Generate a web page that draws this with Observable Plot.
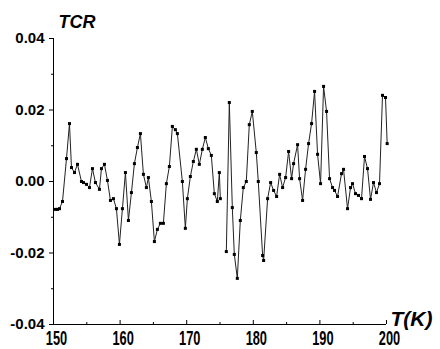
<!DOCTYPE html>
<html><head><meta charset="utf-8">
<script src="https://cdn.jsdelivr.net/npm/d3@7"></script>
<script src="https://cdn.jsdelivr.net/npm/@observablehq/plot@0.6"></script>
<style>html,body{margin:0;padding:0;background:#fff;} #chart svg{display:block;}</style>
</head><body><div id="chart"></div>
<script>
const temperature = [150.3,150.6,150.9,151.35,151.95,152.4,152.7,153.15,153.6,154.2,154.5,154.95,155.4,155.85,156.3,156.9,157.2,157.65,158.1,158.55,159.0,159.45,159.9,160.35,160.8,161.25,161.7,162.15,162.6,163.05,163.5,163.95,164.25,164.7,165.15,165.6,166.05,166.5,166.95,167.4,167.85,168.3,168.6,169.35,169.8,170.1,170.55,171.0,171.45,171.9,172.35,172.8,173.25,173.7,174.15,174.6,174.9,175.05,175.5,175.95,176.4,176.85,177.15,177.6,178.05,178.5,178.95,179.4,179.85,180.45,180.75,181.4,181.55,182.15,182.6,183.05,183.5,183.95,184.4,184.85,185.3,185.75,186.05,186.65,186.95,187.4,187.85,188.3,188.75,189.2,189.65,190.1,190.55,191.0,191.45,191.9,192.2,192.65,193.25,193.55,194.15,194.6,194.9,195.35,195.8,196.25,196.7,197.15,197.6,198.05,198.5,198.95,199.4,199.85,200.1];
const tcr = [-0.0078,-0.0078,-0.0076,-0.0056,0.0064,0.0162,0.0039,0.0025,0.0048,0.0,-0.0003,-0.0008,-0.0017,0.0036,-0.0003,-0.0022,0.0036,0.0048,0.0003,-0.0053,-0.0048,-0.0076,-0.0176,-0.0076,0.0025,-0.0109,-0.0031,0.005,0.0095,0.0134,0.002,-0.0017,0.0011,-0.0056,-0.0168,-0.0134,-0.0117,-0.0117,-0.0006,0.0042,0.0154,0.0145,0.0134,0.0,-0.0131,-0.0048,0.0014,0.0056,0.009,0.0048,0.009,0.0123,0.0092,0.0073,-0.0034,-0.0056,0.0025,-0.0048,null,-0.0196,0.0221,-0.0073,-0.0204,-0.0271,-0.0109,-0.0017,0.0,0.0159,0.0196,0.0081,0.0,-0.0207,-0.0221,-0.0048,-0.0003,-0.0025,-0.0042,0.002,-0.0017,0.0011,0.0084,0.0008,0.005,0.0103,0.0008,-0.0053,0.0034,0.0106,0.0162,0.0252,0.0076,-0.0006,0.0266,0.0196,0.0008,-0.0017,-0.0025,-0.0042,0.0022,0.0034,-0.0076,-0.0017,-0.0006,-0.0034,-0.0039,-0.0048,0.007,0.0036,-0.005,-0.0003,-0.0031,-0.0006,0.0241,0.0235,0.0106];
const xDomain = [150, 200];
const yDomain = [-0.04, 0.04];
const xMajorTicks = [150, 160, 170, 180, 190, 200];
const xMinorTicks = [155, 165, 175, 185, 195];
const yMajorTicks = [-0.04, -0.02, 0, 0.02, 0.04];
const yMinorTicks = [-0.03, -0.01, 0.01, 0.03];
const xTitle = "T(K)";
const yTitle = "TCR";

const rows = temperature.map((t, i) => ({T: t, TCR: tcr[i]}));
const font = '"Liberation Sans", Arial, sans-serif';

const chart = Plot.plot({
  width: 440, height: 349,
  marginTop: 38, marginBottom: 25, marginLeft: 53, marginRight: 54,
  x: {domain: xDomain}, y: {domain: yDomain},
  style: {fontFamily: font, background: "white", color: "black", overflow: "visible"},
  marks: [
    Plot.ruleX([xDomain[0]], {stroke: "black", strokeWidth: 1}),
    Plot.ruleY([yDomain[0]], {stroke: "black", strokeWidth: 1}),
    Plot.ruleY(yMajorTicks, {y: d => d, x1: xDomain[0], x2: xDomain[0], insetLeft: -4, stroke: "black"}),
    Plot.ruleY(yMinorTicks, {y: d => d, x1: xDomain[0], x2: xDomain[0], insetLeft: -2, stroke: "black"}),
    Plot.ruleX(xMajorTicks, {x: d => d, y1: yDomain[0], y2: yDomain[0], insetTop: -4, stroke: "black"}),
    Plot.ruleX(xMinorTicks, {x: d => d, y1: yDomain[0], y2: yDomain[0], insetTop: -2, stroke: "black"}),
    Plot.axisY(yMajorTicks, {tickSize: 0, tickPadding: 9, label: null, tickFormat: d => d.toFixed(2), fontSize: 15, fontWeight: "bold"}),
    Plot.axisX(xMajorTicks, {tickSize: 0, tickPadding: 6, dx: 3, label: null, tickFormat: d => String(d), fontSize: 20, fontWeight: "bold"}),
    Plot.line(rows, {x: "T", y: "TCR", stroke: "#222", strokeWidth: 1}),
    Plot.dot(rows, {x: "T", y: "TCR", symbol: "square", r: 1.7, fill: "black", stroke: "none"}),
    Plot.text([yTitle], {text: d => d, frameAnchor: "top-left", dx: 5, dy: -11, textAnchor: "start", lineAnchor: "bottom", fontSize: 18, fontWeight: "bold", fontStyle: "italic"}),
    Plot.text([xTitle], {text: d => d, frameAnchor: "bottom-right", dx: 4, dy: 1, textAnchor: "start", lineAnchor: "bottom", fontSize: 21, fontWeight: "bold", fontStyle: "italic"})
  ]
});
document.getElementById("chart").appendChild(chart);
d3.select(chart).selectAll('g[aria-label="x-axis tick label"] text').each(function() {
  const t = this.getAttribute("transform") || "";
  this.setAttribute("transform", t + " scale(0.64,1)");
});
</script>
</body></html>
